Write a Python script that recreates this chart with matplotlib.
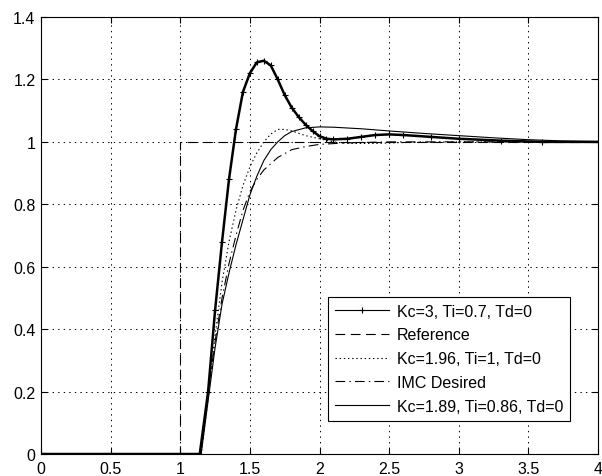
import matplotlib
matplotlib.use('Agg')
import matplotlib.pyplot as plt
from matplotlib.lines import Line2D

plt.rcParams['font.family'] = ['Liberation Sans', 'DejaVu Sans']
plt.rcParams['lines.scale_dashes'] = False

# Kc=3, Ti=0.7, Td=0
kc3_t = [0, 1.14, 1.2, 1.25, 1.3, 1.35, 1.4, 1.45, 1.5, 1.55, 1.6, 1.65, 1.7, 1.75,
         1.8, 1.85, 1.9, 1.95, 2.0, 2.05, 2.1, 2.2, 2.3, 2.4, 2.5, 2.6, 2.8, 3.0,
         3.3, 3.6, 4.0]
kc3_v = [0, 0, 0.2, 0.46, 0.68, 0.88, 1.04, 1.16, 1.22, 1.255, 1.26, 1.245, 1.2,
         1.15, 1.11, 1.08, 1.055, 1.035, 1.018, 1.01, 1.008, 1.01, 1.016, 1.022,
         1.024, 1.022, 1.016, 1.01, 1.004, 1.0, 1.0]

# Reference step
ref_t = [0, 1, 1, 4]
ref_v = [0, 0, 1, 1]

# Kc=1.96, Ti=1, Td=0
kc196_t = [0, 1.15, 1.2, 1.25, 1.3, 1.35, 1.4, 1.45, 1.5, 1.55, 1.6, 1.65, 1.7,
           1.75, 1.8, 1.9, 2.0, 2.1, 2.2, 2.4, 2.6, 3.0, 4.0]
kc196_v = [0, 0, 0.18, 0.38, 0.55, 0.68, 0.78, 0.86, 0.92, 0.965, 1.0, 1.025,
           1.04, 1.04, 1.035, 1.02, 1.01, 1.0, 0.995, 0.995, 0.998, 1.0, 1.0]

# IMC desired response
imc_t = [0, 1.15, 1.2, 1.25, 1.3, 1.35, 1.4, 1.45, 1.5, 1.55, 1.6, 1.7, 1.8, 1.9,
         2.0, 2.2, 2.5, 4.0]
imc_v = [0, 0, 0.2, 0.36, 0.5, 0.61, 0.7, 0.78, 0.84, 0.88, 0.91, 0.95, 0.975,
         0.985, 0.992, 0.997, 1.0, 1.0]

# Kc=1.89, Ti=0.86, Td=0
kc189_t = [0, 1.15, 1.2, 1.25, 1.3, 1.35, 1.4, 1.45, 1.5, 1.55, 1.6, 1.65, 1.7,
           1.75, 1.8, 1.9, 2.0, 2.1, 2.3, 2.5, 2.75, 3.0, 3.25, 3.5, 3.75, 4.0]
kc189_v = [0, 0, 0.17, 0.34, 0.48, 0.58, 0.67, 0.75, 0.83, 0.89, 0.94, 0.975,
           1.0, 1.02, 1.033, 1.045, 1.048, 1.047, 1.042, 1.035, 1.027, 1.02,
           1.013, 1.007, 1.003, 1.001]

labels = ['Kc=3, Ti=0.7, Td=0', 'Reference', 'Kc=1.96, Ti=1, Td=0',
          'IMC Desired', 'Kc=1.89, Ti=0.86, Td=0']

x_ticks = [0, 0.5, 1, 1.5, 2, 2.5, 3, 3.5, 4]
x_tick_labels = ['0', '0.5', '1', '1.5', '2', '2.5', '3', '3.5', '4']
y_ticks = [0, 0.2, 0.4, 0.6, 0.8, 1.0, 1.2, 1.4]
y_tick_labels = ['0', '0.2', '0.4', '0.6', '0.8', '1', '1.2', '1.4']

dash = (7, 4)
dashdot = (7, 3, 1, 3)
dot = (1, 2)

fig = plt.figure(figsize=(6.02, 4.77), dpi=100)
ax = fig.add_axes([0.0681, 0.0461, 0.9253, 0.9161])

ax.plot(kc3_t, kc3_v, color='black', linewidth=1.8, marker='+',
        markersize=5, markeredgewidth=0.8)
ax.plot(ref_t, ref_v, color='black', linewidth=0.8, linestyle=(0, dash))
ax.plot(kc196_t, kc196_v, color='black', linewidth=0.8, linestyle=(0, dot))
ax.plot(imc_t, imc_v, color='black', linewidth=0.8, linestyle=(0, dashdot))
ax.plot(kc189_t, kc189_v, color='black', linewidth=0.8)

ax.set_xlim(0, 4)
ax.set_ylim(0, 1.4)
ax.set_xticks(x_ticks)
ax.set_xticklabels(x_tick_labels)
ax.set_yticks(y_ticks)
ax.set_yticklabels(y_tick_labels)
ax.tick_params(direction='in', length=4, width=0.8, labelsize=11.5,
               top=True, right=True)
ax.tick_params(axis='x', pad=5)
ax.tick_params(axis='y', pad=4)
for s in ax.spines.values():
    s.set_linewidth(0.8)
ax.grid(True, color='black', linestyle=(0, (1, 3)), linewidth=0.7)

# legend handles drawn thin like the original
handles = [
    Line2D([], [], color='black', linewidth=0.8, marker='+', markersize=4,
           markeredgewidth=0.8),
    Line2D([], [], color='black', linewidth=0.8, linestyle=(0, dash)),
    Line2D([], [], color='black', linewidth=0.8, linestyle=(0, dot)),
    Line2D([], [], color='black', linewidth=0.8, linestyle=(0, dashdot)),
    Line2D([], [], color='black', linewidth=0.8),
]
leg = ax.legend(handles, labels, loc='lower right',
                bbox_to_anchor=(0.95, 0.0755), borderaxespad=0,
                fancybox=False, framealpha=1, edgecolor='black',
                fontsize=11.5, handlelength=3.4, labelspacing=0.55,
                handletextpad=0.45, borderpad=0.45)
leg.get_frame().set_linewidth(0.8)

fig.savefig('out.png', dpi=100)
